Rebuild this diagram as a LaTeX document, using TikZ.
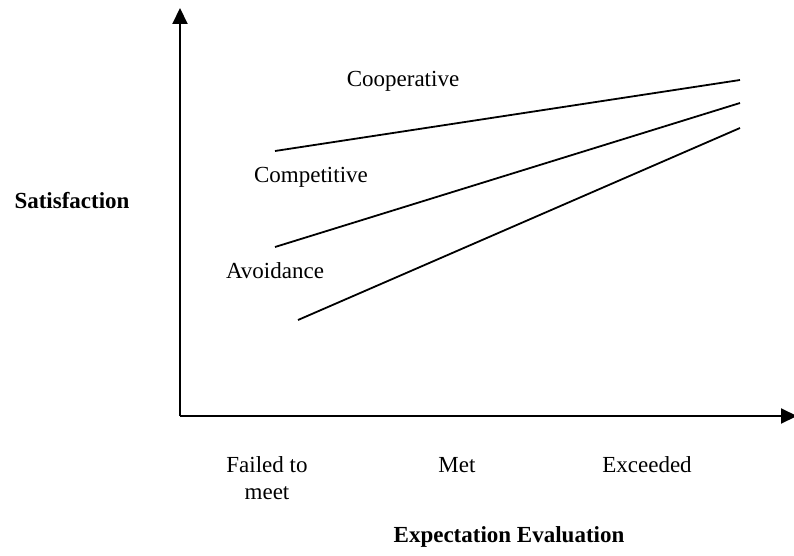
\documentclass[tikz,border=0pt]{standalone}
\usepackage{fontspec}
\setmainfont{Liberation Serif}
\usetikzlibrary{arrows.meta}
\begin{document}
\begin{tikzpicture}[x=1pt,y=-1pt,
    axis/.style={line width=2pt,-{Triangle[length=16pt,width=15pt]}},
    trend/.style={line width=1.8pt},
    lbl/.style={inner sep=0pt,font=\fontsize{23}{27}\selectfont},
    bold/.style={lbl,font=\fontsize{23}{27}\selectfont\bfseries}]
  \useasboundingbox (0,0) rectangle (794,556);
  % axes
  \coordinate (origin) at (180,416);
  \coordinate (ytop) at (180,8);
  \coordinate (xend) at (797,416);
  \draw[axis] (origin) -- (ytop);
  \draw[axis] (origin) -- (xend);
  % trend lines
  \coordinate (coopL) at (275,151);
  \coordinate (coopR) at (740,80);
  \coordinate (compL) at (275,247);
  \coordinate (compR) at (740,103);
  \coordinate (avoidL) at (298,320);
  \coordinate (avoidR) at (740,128);
  \draw[trend] (coopL) -- (coopR);
  \draw[trend] (compL) -- (compR);
  \draw[trend] (avoidL) -- (avoidR);
  % line labels
  \node[lbl] (coop) at (403,81) {Cooperative};
  \node[lbl] (comp) at (311,177) {Competitive};
  \node[lbl] (avoid) at (275,271) {Avoidance};
  % axis labels
  \node[bold] (ylab) at (72,201) {Satisfaction};
  \node[lbl,align=center] (failed) at (267,478) {Failed to\\meet};
  \node[lbl] (met) at (457,465) {Met};
  \node[lbl] (exceeded) at (647,465) {Exceeded};
  \node[bold] (xlab) at (509,537) {Expectation Evaluation};
\end{tikzpicture}
\end{document}
